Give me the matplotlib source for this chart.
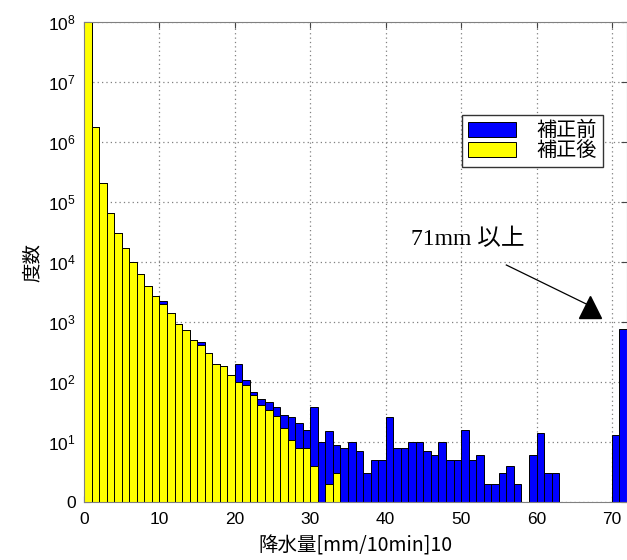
import numpy as np
import matplotlib
matplotlib.use('Agg')
import matplotlib.pyplot as plt
from matplotlib.ticker import FixedLocator, NullLocator

plt.rcParams['font.family'] = ['Liberation Sans', 'Noto Sans CJK JP']

# bins of 1 unit [mm/10min]x10, last bin = 71mm and above
bins = np.arange(72)

before = [1.0e8, 1.8e6, 2.1e5, 6.5e4, 3.1e4, 1.73e4, 9.9e3, 6.2e3, 4.0e3, 2.7e3,
          2260, 1430, 915, 745, 500, 464, 304, 202, 185, 131,
          202, 107, 68, 53, 46, 38, 28, 26, 21, 16,
          38, 10, 15, 9, 8, 10, 7, 3, 5, 5,
          26, 8, 8, 10, 10, 7, 6, 10, 5, 5,
          16, 5, 6, 2, 2, 3, 4, 2, 1, 6,
          14, 3, 3, 0, 1, 1, 0, 0, 1, 0,
          13, 755]

after = [1.0e8, 1.8e6, 2.1e5, 6.5e4, 3.1e4, 1.73e4, 9.9e3, 6.2e3, 4.0e3, 2.7e3,
         1970, 1430, 915, 745, 500, 410, 304, 202, 185, 131,
         100, 88, 61, 42, 34, 27, 17, 11, 8, 8,
         4, 0, 2, 3, 0, 0, 0, 0, 0, 0,
         0, 0, 0, 0, 0, 0, 0, 0, 0, 0,
         0, 0, 0, 0, 0, 0, 0, 0, 0, 0,
         0, 0, 0, 0, 0, 0, 0, 0, 0, 0,
         0, 0]

labels = ['補正前', '補正後']
colors = ['#0000ff', '#ffff00']
yticks = [1, 1e1, 1e2, 1e3, 1e4, 1e5, 1e6, 1e7, 1e8]
ytick_labels = ['0'] + [r'$\mathregular{10^{%d}}$' % k for k in range(1, 9)]

fig = plt.figure(figsize=(6.27, 5.6), dpi=100)
ax = fig.add_axes([84 / 627, 58 / 560, 543 / 627, 480 / 560])
ax.set_yscale('log')

for vals, col, lab in zip([before, after], colors, labels):
    v = np.array(vals, dtype=float)
    m = v >= 1
    ax.bar(bins[m], v[m] - 1, bottom=1, width=1, align='edge',
           color=col, edgecolor='black', linewidth=0.7, label=lab)

ax.set_xlim(0, 72)
ax.set_ylim(1, 1e8)
ax.xaxis.set_major_locator(FixedLocator(np.arange(0, 71, 10)))
ax.yaxis.set_major_locator(FixedLocator(yticks))
ax.yaxis.set_minor_locator(NullLocator())
ax.set_yticklabels(ytick_labels)
ax.tick_params(direction='in', top=True, right=True, length=4, labelsize=12.5,
               color='#444444')
ax.tick_params(axis='x', pad=7)
ax.tick_params(axis='y', pad=6)
for s in ax.spines.values():
    s.set_color('#808080')
ax.set_axisbelow(True)
ax.grid(True, linestyle=(0, (1, 2.5)), color='#808080', linewidth=0.9)

ax.set_xlabel('降水量[mm/10min]10', fontsize=14, labelpad=6,
              family=['Noto Sans CJK JP'])
ax.set_ylabel('度数', fontsize=14, labelpad=4)

leg = ax.legend(loc='upper right', bbox_to_anchor=(0.955, 0.806), fontsize=14.5,
                handlelength=2.4, handleheight=0.8, fancybox=False,
                edgecolor='#333333', framealpha=1, borderpad=0.3,
                labelspacing=0.05, handletextpad=1.0, borderaxespad=0)
leg.get_frame().set_linewidth(1.0)

# annotation for the last bin
ax.text(43.4, 10 ** 4.37, '71mm 以上', fontsize=17, va='center', ha='left',
        family=['Liberation Serif', 'Noto Sans CJK JP'])
ax.plot([56.0, 66.6], [10 ** 3.95, 10 ** 3.3], color='black', linewidth=0.9)
ax.plot([67.1], [10 ** 3.25], marker='^', markersize=16, color='black')

fig.savefig('out.png', dpi=100)
